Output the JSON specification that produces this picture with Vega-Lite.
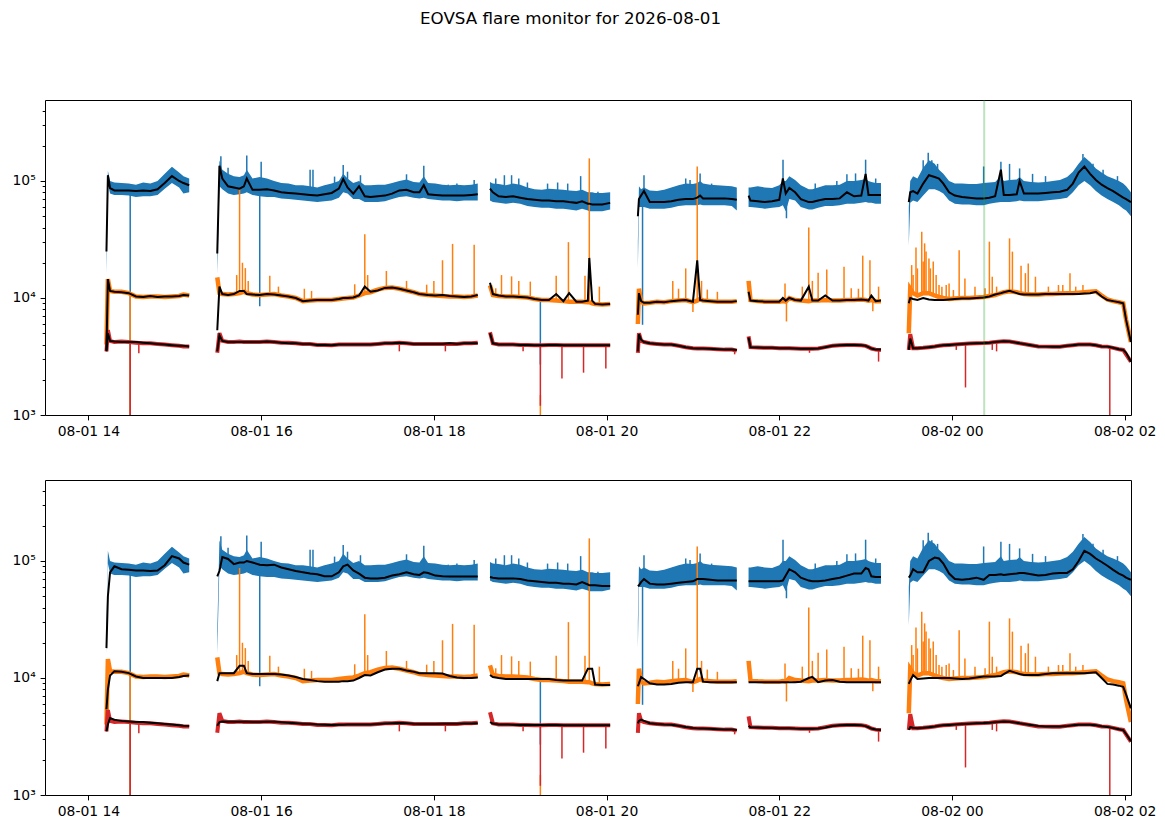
{
  "$schema": "https://vega.github.io/schema/vega-lite/v6.json",
  "autosize": {"type": "none"},
  "padding": {"left": 45, "top": 100, "right": 1120, "bottom": 726},
  "background": "white",
  "title": {"text": "EOVSA flare monitor for 2026-08-01", "anchor": "start", "frame": "group", "dx": 375, "baseline": "bottom", "offset": 54, "font": "DejaVu Sans", "fontSize": 16.7, "fontWeight": "normal", "color": "black"},
  "datasets": {
    "d": [
      {"t":"2026-08-01T14:12:30Z","g":1,"bl":16000,"bh":24000,"o":4000,"r":3500,"kb":25000,"ko":3600,"kr":3500,"mb":18000,"mo":5400,"mr":3500},
      {"t":"2026-08-01T14:13:30Z","g":1,"bl":95000,"bh":122000,"o":14500,"r":5300,"kb":112000,"ko":14500,"kr":5000,"mb":50000,"mo":8000,"mr":4000},
      {"t":"2026-08-01T14:15Z","g":1,"bl":78000,"bh":100000,"o":11500,"r":4300,"kb":87000,"ko":11500,"kr":4300,"mb":80000,"mo":10500,"mr":4550},
      {"t":"2026-08-01T14:18Z","g":1,"bl":76000,"bh":97000,"o":11300,"r":4200,"kb":83000,"ko":11300,"kr":4250,"mb":90000,"mo":11400,"mr":4400},
      {"t":"2026-08-01T14:23Z","g":1,"bl":76000,"bh":96000,"o":11300,"r":4250,"kb":83000,"ko":11200,"kr":4200,"mb":85000,"mo":11300,"mr":4300},
      {"t":"2026-08-01T14:28Z","g":1,"bl":75000,"bh":95000,"o":11000,"r":4200,"kb":83000,"ko":11000,"kr":4200,"mb":84000,"mo":11000,"mr":4250},
      {"t":"2026-08-01T14:33Z","g":1,"bl":73000,"bh":93000,"o":10300,"r":4150,"kb":82000,"ko":10300,"kr":4200,"mb":83000,"mo":10300,"mr":4200},
      {"t":"2026-08-01T14:38Z","g":1,"bl":74000,"bh":97000,"o":10200,"r":4100,"kb":83000,"ko":10200,"kr":4150,"mb":83000,"mo":10000,"mr":4200},
      {"t":"2026-08-01T14:43Z","g":1,"bl":74000,"bh":95000,"o":10300,"r":4100,"kb":82000,"ko":10400,"kr":4100,"mb":82000,"mo":10000,"mr":4150},
      {"t":"2026-08-01T14:48Z","g":1,"bl":76000,"bh":100000,"o":10300,"r":4050,"kb":85000,"ko":10200,"kr":4050,"mb":83000,"mo":10000,"mr":4100},
      {"t":"2026-08-01T14:53Z","g":1,"bl":86000,"bh":115000,"o":10200,"r":4000,"kb":96000,"ko":10300,"kr":4000,"mb":92000,"mo":10000,"mr":4050},
      {"t":"2026-08-01T14:58Z","g":1,"bl":96000,"bh":132000,"o":10300,"r":3950,"kb":110000,"ko":10300,"kr":3950,"mb":110000,"mo":10000,"mr":4000},
      {"t":"2026-08-01T15:03Z","g":1,"bl":88000,"bh":118000,"o":10400,"r":3900,"kb":100000,"ko":10400,"kr":3900,"mb":105000,"mo":10200,"mr":3950},
      {"t":"2026-08-01T15:06Z","g":1,"bl":78000,"bh":110000,"o":10700,"r":3850,"kb":96000,"ko":10600,"kr":3900,"mb":97000,"mo":10400,"mr":3900},
      {"t":"2026-08-01T15:10Z","g":1,"bl":80000,"bh":105000,"o":10500,"r":3850,"kb":92000,"ko":10500,"kr":3850,"mb":93000,"mo":10500,"mr":3880},
      {"t":"2026-08-01T15:29:30Z","g":2,"bl":16000,"bh":25000,"o":15000,"r":3400,"kb":24000,"ko":5300,"kr":3500,"mb":74000,"mo":9400,"mr":3900},
      {"t":"2026-08-01T15:31Z","g":2,"bl":90000,"bh":150000,"o":11000,"r":5000,"kb":135000,"ko":12500,"kr":4800,"mb":82000,"mo":11000,"mr":4200},
      {"t":"2026-08-01T15:33Z","g":2,"bl":85000,"bh":125000,"o":10800,"r":4300,"kb":105000,"ko":10800,"kr":4300,"mb":108000,"mo":11000,"mr":4250},
      {"t":"2026-08-01T15:37Z","g":2,"bl":78000,"bh":115000,"o":10700,"r":4200,"kb":90000,"ko":10600,"kr":4200,"mb":104000,"mo":11000,"mr":4230},
      {"t":"2026-08-01T15:41Z","g":2,"bl":76000,"bh":110000,"o":10800,"r":4200,"kb":88000,"ko":10800,"kr":4200,"mb":94000,"mo":11000,"mr":4220},
      {"t":"2026-08-01T15:45Z","g":2,"bl":77000,"bh":108000,"o":11000,"r":4250,"kb":86000,"ko":11500,"kr":4200,"mb":97000,"mo":12700,"mr":4220},
      {"t":"2026-08-01T15:48Z","g":2,"bl":78000,"bh":112000,"o":11300,"r":4200,"kb":90000,"ko":11500,"kr":4200,"mb":97000,"mo":12700,"mr":4220},
      {"t":"2026-08-01T15:50Z","g":2,"bl":80000,"bh":125000,"o":11000,"r":4200,"kb":105000,"ko":10800,"kr":4200,"mb":100000,"mo":11000,"mr":4220},
      {"t":"2026-08-01T15:54Z","g":2,"bl":76000,"bh":105000,"o":10700,"r":4200,"kb":84000,"ko":10700,"kr":4200,"mb":97000,"mo":10800,"mr":4210},
      {"t":"2026-08-01T15:59Z","g":2,"bl":74000,"bh":108000,"o":10600,"r":4200,"kb":84000,"ko":10600,"kr":4200,"mb":93000,"mo":10800,"mr":4210},
      {"t":"2026-08-01T16:04Z","g":2,"bl":73000,"bh":105000,"o":10700,"r":4250,"kb":85000,"ko":10800,"kr":4250,"mb":92000,"mo":10800,"mr":4230},
      {"t":"2026-08-01T16:09Z","g":2,"bl":73000,"bh":100000,"o":10800,"r":4200,"kb":83000,"ko":10700,"kr":4200,"mb":93000,"mo":10800,"mr":4220},
      {"t":"2026-08-01T16:14Z","g":2,"bl":71000,"bh":96000,"o":10500,"r":4150,"kb":80000,"ko":10500,"kr":4150,"mb":88000,"mo":10700,"mr":4180},
      {"t":"2026-08-01T16:19Z","g":2,"bl":70000,"bh":95000,"o":10300,"r":4150,"kb":79000,"ko":10300,"kr":4100,"mb":85000,"mo":10500,"mr":4150},
      {"t":"2026-08-01T16:24Z","g":2,"bl":69000,"bh":92000,"o":10000,"r":4100,"kb":78000,"ko":10000,"kr":4100,"mb":82000,"mo":10200,"mr":4110},
      {"t":"2026-08-01T16:29Z","g":2,"bl":68000,"bh":92000,"o":9400,"r":4050,"kb":77000,"ko":9400,"kr":4050,"mb":80000,"mo":9800,"mr":4070},
      {"t":"2026-08-01T16:34Z","g":2,"bl":67000,"bh":90000,"o":9500,"r":4050,"kb":76000,"ko":9500,"kr":4050,"mb":78000,"mo":9600,"mr":4040},
      {"t":"2026-08-01T16:39Z","g":2,"bl":66000,"bh":88000,"o":9600,"r":3970,"kb":75000,"ko":9600,"kr":3970,"mb":77000,"mo":9400,"mr":4000},
      {"t":"2026-08-01T16:44Z","g":2,"bl":67000,"bh":92000,"o":9600,"r":3970,"kb":77000,"ko":9600,"kr":3970,"mb":74000,"mo":9300,"mr":3980},
      {"t":"2026-08-01T16:49Z","g":2,"bl":68000,"bh":95000,"o":9600,"r":3950,"kb":79000,"ko":9600,"kr":3950,"mb":74000,"mo":9300,"mr":3970},
      {"t":"2026-08-01T16:54Z","g":2,"bl":72000,"bh":100000,"o":9800,"r":4000,"kb":86000,"ko":9800,"kr":4000,"mb":80000,"mo":9300,"mr":3980},
      {"t":"2026-08-01T16:57Z","g":2,"bl":80000,"bh":115000,"o":9900,"r":4000,"kb":104000,"ko":10000,"kr":4000,"mb":90000,"mo":9400,"mr":3990},
      {"t":"2026-08-01T17:00Z","g":2,"bl":78000,"bh":105000,"o":10000,"r":4000,"kb":88000,"ko":10000,"kr":4000,"mb":93000,"mo":9400,"mr":4000},
      {"t":"2026-08-01T17:04Z","g":2,"bl":70000,"bh":96000,"o":10100,"r":4000,"kb":78000,"ko":10100,"kr":4000,"mb":83000,"mo":9500,"mr":4000},
      {"t":"2026-08-01T17:08Z","g":2,"bl":70000,"bh":100000,"o":10500,"r":4000,"kb":90000,"ko":10500,"kr":4000,"mb":78000,"mo":10000,"mr":4000},
      {"t":"2026-08-01T17:12Z","g":2,"bl":66000,"bh":92000,"o":11000,"r":4000,"kb":74000,"ko":12500,"kr":4000,"mb":72000,"mo":10600,"mr":4000},
      {"t":"2026-08-01T17:16Z","g":2,"bl":66000,"bh":92000,"o":11200,"r":4000,"kb":73000,"ko":11300,"kr":4000,"mb":71000,"mo":10500,"mr":4010},
      {"t":"2026-08-01T17:21Z","g":2,"bl":66000,"bh":93000,"o":11800,"r":4050,"kb":74000,"ko":11600,"kr":4050,"mb":71000,"mo":11200,"mr":4040},
      {"t":"2026-08-01T17:26Z","g":2,"bl":67000,"bh":93000,"o":12200,"r":4100,"kb":75000,"ko":12200,"kr":4100,"mb":72000,"mo":11800,"mr":4080},
      {"t":"2026-08-01T17:31Z","g":2,"bl":70000,"bh":96000,"o":12300,"r":4100,"kb":78000,"ko":12300,"kr":4100,"mb":75000,"mo":12000,"mr":4100},
      {"t":"2026-08-01T17:36Z","g":2,"bl":73000,"bh":100000,"o":12000,"r":4150,"kb":83000,"ko":12000,"kr":4150,"mb":77000,"mo":12000,"mr":4120},
      {"t":"2026-08-01T17:41Z","g":2,"bl":74000,"bh":103000,"o":11600,"r":4100,"kb":84000,"ko":11600,"kr":4100,"mb":80000,"mo":11600,"mr":4100},
      {"t":"2026-08-01T17:46Z","g":2,"bl":72000,"bh":98000,"o":11200,"r":4050,"kb":80000,"ko":11200,"kr":4050,"mb":77000,"mo":11300,"mr":4060},
      {"t":"2026-08-01T17:50Z","g":2,"bl":71000,"bh":97000,"o":10800,"r":4050,"kb":80000,"ko":10800,"kr":4050,"mb":76000,"mo":11000,"mr":4050},
      {"t":"2026-08-01T17:53Z","g":2,"bl":72000,"bh":110000,"o":10700,"r":4050,"kb":92000,"ko":10700,"kr":4050,"mb":80000,"mo":11000,"mr":4050},
      {"t":"2026-08-01T17:56Z","g":2,"bl":70000,"bh":96000,"o":10600,"r":4050,"kb":77000,"ko":10600,"kr":4050,"mb":79000,"mo":11000,"mr":4050},
      {"t":"2026-08-01T18:01Z","g":2,"bl":69000,"bh":95000,"o":10500,"r":4050,"kb":76000,"ko":10500,"kr":4050,"mb":75000,"mo":11000,"mr":4050},
      {"t":"2026-08-01T18:06Z","g":2,"bl":68000,"bh":93000,"o":10400,"r":4050,"kb":75000,"ko":10600,"kr":4050,"mb":74000,"mo":10900,"mr":4060},
      {"t":"2026-08-01T18:11Z","g":2,"bl":68000,"bh":92000,"o":10300,"r":4050,"kb":75000,"ko":10400,"kr":4100,"mb":73500,"mo":10400,"mr":4070},
      {"t":"2026-08-01T18:16Z","g":2,"bl":67000,"bh":93000,"o":10300,"r":4050,"kb":75000,"ko":10300,"kr":4050,"mb":73500,"mo":10100,"mr":4070},
      {"t":"2026-08-01T18:21Z","g":2,"bl":68000,"bh":92000,"o":10200,"r":4100,"kb":75000,"ko":10200,"kr":4100,"mb":73500,"mo":10000,"mr":4080},
      {"t":"2026-08-01T18:26Z","g":2,"bl":68000,"bh":93000,"o":10300,"r":4100,"kb":76000,"ko":10300,"kr":4100,"mb":73500,"mo":10000,"mr":4090},
      {"t":"2026-08-01T18:30:30Z","g":2,"bl":68000,"bh":95000,"o":10500,"r":4150,"kb":77000,"ko":10600,"kr":4100,"mb":73500,"mo":10100,"mr":4100},
      {"t":"2026-08-01T18:39Z","g":3,"bl":68000,"bh":98000,"o":12800,"r":5100,"kb":86000,"ko":13500,"kr":5000,"mb":73000,"mo":10600,"mr":4200},
      {"t":"2026-08-01T18:41Z","g":3,"bl":66000,"bh":95000,"o":10600,"r":4100,"kb":80000,"ko":10800,"kr":4100,"mb":72000,"mo":10200,"mr":4080},
      {"t":"2026-08-01T18:45Z","g":3,"bl":65000,"bh":94000,"o":10400,"r":4000,"kb":74000,"ko":10500,"kr":4000,"mb":71000,"mo":10000,"mr":4000},
      {"t":"2026-08-01T18:50Z","g":3,"bl":64000,"bh":92000,"o":10300,"r":4000,"kb":73000,"ko":10300,"kr":4000,"mb":71000,"mo":9800,"mr":4000},
      {"t":"2026-08-01T18:55Z","g":3,"bl":65000,"bh":95000,"o":10300,"r":4000,"kb":74000,"ko":10300,"kr":4000,"mb":71000,"mo":9800,"mr":3990},
      {"t":"2026-08-01T19:00Z","g":3,"bl":64000,"bh":93000,"o":10200,"r":3970,"kb":72000,"ko":10200,"kr":3970,"mb":70000,"mo":9800,"mr":3970},
      {"t":"2026-08-01T19:05Z","g":3,"bl":61000,"bh":88000,"o":10100,"r":3970,"kb":70000,"ko":10100,"kr":3970,"mb":68000,"mo":9800,"mr":3970},
      {"t":"2026-08-01T19:10Z","g":3,"bl":60000,"bh":85000,"o":9800,"r":3950,"kb":69000,"ko":9800,"kr":3950,"mb":67000,"mo":9800,"mr":3960},
      {"t":"2026-08-01T19:15Z","g":3,"bl":59000,"bh":84000,"o":9600,"r":3950,"kb":68000,"ko":9600,"kr":3950,"mb":66000,"mo":9800,"mr":3960},
      {"t":"2026-08-01T19:20Z","g":3,"bl":59000,"bh":86000,"o":9600,"r":3970,"kb":68000,"ko":9600,"kr":3970,"mb":65000,"mo":9800,"mr":3960},
      {"t":"2026-08-01T19:25Z","g":3,"bl":58000,"bh":85000,"o":9500,"r":3970,"kb":67000,"ko":10800,"kr":3970,"mb":65000,"mo":9600,"mr":3960},
      {"t":"2026-08-01T19:30Z","g":3,"bl":58000,"bh":84000,"o":9400,"r":3950,"kb":67000,"ko":9400,"kr":3950,"mb":64000,"mo":9500,"mr":3950},
      {"t":"2026-08-01T19:34Z","g":3,"bl":57000,"bh":83000,"o":9300,"r":3950,"kb":66000,"ko":11000,"kr":3950,"mb":64000,"mo":9500,"mr":3950},
      {"t":"2026-08-01T19:39Z","g":3,"bl":56000,"bh":82000,"o":9300,"r":3950,"kb":65000,"ko":9300,"kr":3950,"mb":63000,"mo":9500,"mr":3950},
      {"t":"2026-08-01T19:43Z","g":3,"bl":58000,"bh":84000,"o":9300,"r":3950,"kb":67000,"ko":9300,"kr":3950,"mb":66000,"mo":9500,"mr":3950},
      {"t":"2026-08-01T19:47Z","g":3,"bl":56000,"bh":80000,"o":9200,"r":3950,"kb":64000,"ko":9500,"kr":3950,"mb":63000,"mo":12000,"mr":3950},
      {"t":"2026-08-01T19:48Z","g":3,"bl":55000,"bh":80000,"o":9200,"r":3950,"kb":64000,"ko":22000,"kr":3950,"mb":62000,"mo":12000,"mr":3950},
      {"t":"2026-08-01T19:50Z","g":3,"bl":55000,"bh":80000,"o":9000,"r":3950,"kb":63000,"ko":9500,"kr":3950,"mb":62000,"mo":12000,"mr":3950},
      {"t":"2026-08-01T19:52Z","g":3,"bl":55000,"bh":79000,"o":8900,"r":3950,"kb":63000,"ko":8900,"kr":3950,"mb":62000,"mo":8800,"mr":3950},
      {"t":"2026-08-01T19:57Z","g":3,"bl":55000,"bh":79000,"o":8800,"r":3950,"kb":63000,"ko":8800,"kr":3950,"mb":61000,"mo":8700,"mr":3950},
      {"t":"2026-08-01T20:02:30Z","g":3,"bl":57000,"bh":80000,"o":8900,"r":3950,"kb":65000,"ko":8900,"kr":3950,"mb":61000,"mo":8700,"mr":3950},
      {"t":"2026-08-01T20:21:45Z","g":4,"bl":17900,"bh":30000,"o":6000,"r":3400,"kb":50000,"ko":7200,"kr":3500,"mb":61000,"mo":8500,"mr":4100},
      {"t":"2026-08-01T20:22:30Z","g":4,"bl":60000,"bh":90000,"o":12000,"r":5000,"kb":70000,"ko":11000,"kr":4900,"mb":62000,"mo":9000,"mr":4300},
      {"t":"2026-08-01T20:24Z","g":4,"bl":60000,"bh":85000,"o":9300,"r":4300,"kb":75000,"ko":9400,"kr":4400,"mb":66000,"mo":10200,"mr":4400},
      {"t":"2026-08-01T20:26Z","g":4,"bl":60000,"bh":88000,"o":9000,"r":4200,"kb":82000,"ko":9100,"kr":4200,"mb":70000,"mo":9800,"mr":4300},
      {"t":"2026-08-01T20:30Z","g":4,"bl":58000,"bh":83000,"o":9100,"r":4100,"kb":66000,"ko":9100,"kr":4100,"mb":64000,"mo":9000,"mr":4100},
      {"t":"2026-08-01T20:35Z","g":4,"bl":58000,"bh":82000,"o":9300,"r":4050,"kb":66000,"ko":9300,"kr":4050,"mb":63000,"mo":8800,"mr":4040},
      {"t":"2026-08-01T20:40Z","g":4,"bl":58000,"bh":84000,"o":9200,"r":4000,"kb":66000,"ko":9200,"kr":4000,"mb":63000,"mo":8800,"mr":4000},
      {"t":"2026-08-01T20:45Z","g":4,"bl":59000,"bh":88000,"o":9400,"r":4000,"kb":67000,"ko":9400,"kr":4000,"mb":64000,"mo":8900,"mr":3980},
      {"t":"2026-08-01T20:50Z","g":4,"bl":61000,"bh":92000,"o":9500,"r":3900,"kb":69000,"ko":9500,"kr":3900,"mb":65000,"mo":9100,"mr":3900},
      {"t":"2026-08-01T20:55Z","g":4,"bl":62000,"bh":95000,"o":9600,"r":3800,"kb":70000,"ko":9600,"kr":3800,"mb":66000,"mo":9200,"mr":3810},
      {"t":"2026-08-01T21:00Z","g":4,"bl":62000,"bh":94000,"o":9200,"r":3720,"kb":70000,"ko":9300,"kr":3720,"mb":67000,"mo":9200,"mr":3740},
      {"t":"2026-08-01T21:03Z","g":4,"bl":62000,"bh":96000,"o":9500,"r":3700,"kb":72000,"ko":21000,"kr":3700,"mb":70000,"mo":12000,"mr":3710},
      {"t":"2026-08-01T21:05Z","g":4,"bl":63000,"bh":100000,"o":9800,"r":3700,"kb":75000,"ko":9600,"kr":3700,"mb":70000,"mo":12000,"mr":3700},
      {"t":"2026-08-01T21:07Z","g":4,"bl":62000,"bh":95000,"o":9500,"r":3700,"kb":71000,"ko":9500,"kr":3700,"mb":70000,"mo":9300,"mr":3700},
      {"t":"2026-08-01T21:12Z","g":4,"bl":62000,"bh":93000,"o":9400,"r":3680,"kb":71000,"ko":9400,"kr":3680,"mb":69000,"mo":9200,"mr":3680},
      {"t":"2026-08-01T21:17Z","g":4,"bl":62000,"bh":92000,"o":9300,"r":3650,"kb":71000,"ko":9300,"kr":3650,"mb":68000,"mo":9200,"mr":3650},
      {"t":"2026-08-01T21:22Z","g":4,"bl":62000,"bh":91000,"o":9300,"r":3620,"kb":71000,"ko":9300,"kr":3620,"mb":68000,"mo":9200,"mr":3630},
      {"t":"2026-08-01T21:27Z","g":4,"bl":61000,"bh":90000,"o":9300,"r":3620,"kb":70000,"ko":9300,"kr":3620,"mb":68000,"mo":9200,"mr":3620},
      {"t":"2026-08-01T21:30:30Z","g":4,"bl":56000,"bh":88000,"o":9400,"r":3550,"kb":69000,"ko":9400,"kr":3600,"mb":68000,"mo":9200,"mr":3600},
      {"t":"2026-08-01T21:38:40Z","g":5,"bl":60000,"bh":88000,"o":14000,"r":4700,"kb":75000,"ko":11300,"kr":4600,"mb":67000,"mo":9200,"mr":3900},
      {"t":"2026-08-01T21:40Z","g":5,"bl":60000,"bh":88000,"o":9600,"r":3800,"kb":68000,"ko":9500,"kr":3800,"mb":67000,"mo":9200,"mr":3790},
      {"t":"2026-08-01T21:45Z","g":5,"bl":59000,"bh":90000,"o":9400,"r":3780,"kb":67000,"ko":9400,"kr":3780,"mb":67000,"mo":9200,"mr":3770},
      {"t":"2026-08-01T21:50Z","g":5,"bl":58000,"bh":88000,"o":9300,"r":3750,"kb":66000,"ko":9300,"kr":3750,"mb":67000,"mo":9200,"mr":3750},
      {"t":"2026-08-01T21:55Z","g":5,"bl":59000,"bh":87000,"o":9300,"r":3750,"kb":67000,"ko":9300,"kr":3750,"mb":67000,"mo":9200,"mr":3740},
      {"t":"2026-08-01T22:00Z","g":5,"bl":60000,"bh":92000,"o":9300,"r":3720,"kb":69000,"ko":9300,"kr":3720,"mb":67000,"mo":9200,"mr":3720},
      {"t":"2026-08-01T22:02:30Z","g":5,"bl":62000,"bh":100000,"o":9400,"r":3720,"kb":105000,"ko":10000,"kr":3720,"mb":68000,"mo":9200,"mr":3720},
      {"t":"2026-08-01T22:04:30Z","g":5,"bl":55000,"bh":100000,"o":9300,"r":3720,"kb":78000,"ko":9500,"kr":3720,"mb":75000,"mo":9200,"mr":3720},
      {"t":"2026-08-01T22:07Z","g":5,"bl":70000,"bh":110000,"o":10000,"r":3720,"kb":87000,"ko":10000,"kr":3720,"mb":85000,"mo":9200,"mr":3720},
      {"t":"2026-08-01T22:11Z","g":5,"bl":68000,"bh":102000,"o":9600,"r":3700,"kb":80000,"ko":9600,"kr":3700,"mb":80000,"mo":9200,"mr":3700},
      {"t":"2026-08-01T22:15Z","g":5,"bl":60000,"bh":92000,"o":9500,"r":3680,"kb":70000,"ko":9500,"kr":3680,"mb":72000,"mo":9300,"mr":3690},
      {"t":"2026-08-01T22:20:30Z","g":5,"bl":57000,"bh":85000,"o":9400,"r":3680,"kb":66000,"ko":12500,"kr":3680,"mb":68000,"mo":10000,"mr":3680},
      {"t":"2026-08-01T22:23Z","g":5,"bl":57000,"bh":85000,"o":9500,"r":3680,"kb":66000,"ko":9500,"kr":3680,"mb":67000,"mo":10200,"mr":3680},
      {"t":"2026-08-01T22:27Z","g":5,"bl":59000,"bh":88000,"o":9500,"r":3700,"kb":68000,"ko":9500,"kr":3700,"mb":67000,"mo":9200,"mr":3700},
      {"t":"2026-08-01T22:32Z","g":5,"bl":61000,"bh":92000,"o":9600,"r":3800,"kb":70000,"ko":10500,"kr":3800,"mb":68000,"mo":9500,"mr":3780},
      {"t":"2026-08-01T22:37Z","g":5,"bl":61000,"bh":92000,"o":9500,"r":3900,"kb":70000,"ko":9500,"kr":3900,"mb":70000,"mo":9600,"mr":3880},
      {"t":"2026-08-01T22:42Z","g":5,"bl":62000,"bh":93000,"o":9500,"r":3950,"kb":71000,"ko":9500,"kr":3950,"mb":72000,"mo":9300,"mr":3940},
      {"t":"2026-08-01T22:47Z","g":5,"bl":64000,"bh":100000,"o":9600,"r":3970,"kb":80000,"ko":9600,"kr":3970,"mb":75000,"mo":9200,"mr":3960},
      {"t":"2026-08-01T22:52Z","g":5,"bl":64000,"bh":100000,"o":9600,"r":3970,"kb":74000,"ko":9600,"kr":3970,"mb":78000,"mo":9200,"mr":3960},
      {"t":"2026-08-01T22:57Z","g":5,"bl":65000,"bh":102000,"o":9700,"r":3950,"kb":75000,"ko":9700,"kr":3950,"mb":78000,"mo":9200,"mr":3940},
      {"t":"2026-08-01T23:00Z","g":5,"bl":66000,"bh":104000,"o":9600,"r":3900,"kb":115000,"ko":9600,"kr":3900,"mb":87000,"mo":9200,"mr":3880},
      {"t":"2026-08-01T23:02Z","g":5,"bl":65000,"bh":100000,"o":9500,"r":3800,"kb":76000,"ko":9500,"kr":3800,"mb":85000,"mo":9200,"mr":3790},
      {"t":"2026-08-01T23:04Z","g":5,"bl":65000,"bh":98000,"o":9600,"r":3700,"kb":76000,"ko":10500,"kr":3700,"mb":74000,"mo":9200,"mr":3700},
      {"t":"2026-08-01T23:07Z","g":5,"bl":64000,"bh":96000,"o":9400,"r":3620,"kb":76000,"ko":9400,"kr":3620,"mb":73000,"mo":9200,"mr":3630},
      {"t":"2026-08-01T23:10:40Z","g":5,"bl":64000,"bh":96000,"o":9400,"r":3600,"kb":76000,"ko":9500,"kr":3620,"mb":73000,"mo":9200,"mr":3600},
      {"t":"2026-08-01T23:30Z","g":6,"bl":28000,"bh":60000,"o":5000,"r":3600,"kb":66000,"ko":9000,"kr":3600,"mb":72000,"mo":8900,"mr":3600},
      {"t":"2026-08-01T23:31Z","g":6,"bl":65000,"bh":100000,"o":12000,"r":4900,"kb":80000,"ko":10000,"kr":4500,"mb":75000,"mo":9500,"mr":3800},
      {"t":"2026-08-01T23:33Z","g":6,"bl":68000,"bh":110000,"o":11000,"r":3720,"kb":82000,"ko":9800,"kr":3720,"mb":85000,"mo":10600,"mr":3750},
      {"t":"2026-08-01T23:36Z","g":6,"bl":66000,"bh":105000,"o":10500,"r":3720,"kb":78000,"ko":9600,"kr":3720,"mb":80000,"mo":9800,"mr":3720},
      {"t":"2026-08-01T23:40Z","g":6,"bl":75000,"bh":130000,"o":11000,"r":3750,"kb":95000,"ko":10000,"kr":3750,"mb":80000,"mo":9900,"mr":3750},
      {"t":"2026-08-01T23:44Z","g":6,"bl":85000,"bh":150000,"o":11000,"r":3800,"kb":112000,"ko":9700,"kr":3800,"mb":100000,"mo":10000,"mr":3800},
      {"t":"2026-08-01T23:48Z","g":6,"bl":85000,"bh":140000,"o":10500,"r":3850,"kb":108000,"ko":9600,"kr":3850,"mb":107000,"mo":10000,"mr":3850},
      {"t":"2026-08-01T23:51Z","g":6,"bl":82000,"bh":125000,"o":10200,"r":3900,"kb":105000,"ko":9600,"kr":3900,"mb":105000,"mo":10000,"mr":3900},
      {"t":"2026-08-01T23:54Z","g":6,"bl":78000,"bh":115000,"o":10000,"r":3950,"kb":95000,"ko":9600,"kr":3950,"mb":95000,"mo":10000,"mr":3950},
      {"t":"2026-08-01T23:58Z","g":6,"bl":68000,"bh":100000,"o":9800,"r":3970,"kb":80000,"ko":9700,"kr":3970,"mb":78000,"mo":10000,"mr":3970},
      {"t":"2026-08-02T00:02Z","g":6,"bl":64000,"bh":95000,"o":9900,"r":4000,"kb":75000,"ko":9800,"kr":4000,"mb":70000,"mo":9900,"mr":4000},
      {"t":"2026-08-02T00:07Z","g":6,"bl":63000,"bh":95000,"o":10000,"r":4050,"kb":73000,"ko":9900,"kr":4050,"mb":69000,"mo":9800,"mr":4040},
      {"t":"2026-08-02T00:12Z","g":6,"bl":63000,"bh":94000,"o":10000,"r":4080,"kb":72000,"ko":9900,"kr":4080,"mb":70000,"mo":9900,"mr":4070},
      {"t":"2026-08-02T00:17Z","g":6,"bl":62000,"bh":94000,"o":10100,"r":4100,"kb":71000,"ko":10000,"kr":4100,"mb":72000,"mo":10100,"mr":4100},
      {"t":"2026-08-02T00:22Z","g":6,"bl":62000,"bh":96000,"o":10200,"r":4120,"kb":71000,"ko":10100,"kr":4120,"mb":69000,"mo":10300,"mr":4120},
      {"t":"2026-08-02T00:26Z","g":6,"bl":64000,"bh":97000,"o":10400,"r":4150,"kb":72000,"ko":10300,"kr":4150,"mb":76000,"mo":10300,"mr":4150},
      {"t":"2026-08-02T00:30Z","g":6,"bl":65000,"bh":98000,"o":10600,"r":4200,"kb":74000,"ko":10700,"kr":4200,"mb":76000,"mo":10300,"mr":4190},
      {"t":"2026-08-02T00:34Z","g":6,"bl":66000,"bh":110000,"o":11000,"r":4250,"kb":125000,"ko":11000,"kr":4250,"mb":77000,"mo":10400,"mr":4230},
      {"t":"2026-08-02T00:36Z","g":6,"bl":66000,"bh":100000,"o":11200,"r":4270,"kb":76000,"ko":11200,"kr":4270,"mb":76000,"mo":10800,"mr":4250},
      {"t":"2026-08-02T00:40Z","g":6,"bl":66000,"bh":102000,"o":11400,"r":4250,"kb":76000,"ko":11500,"kr":4250,"mb":77000,"mo":11500,"mr":4230},
      {"t":"2026-08-02T00:45Z","g":6,"bl":67000,"bh":103000,"o":11200,"r":4150,"kb":77000,"ko":11000,"kr":4150,"mb":78000,"mo":11000,"mr":4150},
      {"t":"2026-08-02T00:47Z","g":6,"bl":68000,"bh":108000,"o":11000,"r":4100,"kb":100000,"ko":10800,"kr":4100,"mb":79000,"mo":10800,"mr":4100},
      {"t":"2026-08-02T00:50Z","g":6,"bl":67000,"bh":100000,"o":10800,"r":4050,"kb":78000,"ko":10700,"kr":4050,"mb":79000,"mo":10600,"mr":4050},
      {"t":"2026-08-02T00:55Z","g":6,"bl":67000,"bh":98000,"o":10700,"r":3950,"kb":78000,"ko":10700,"kr":3950,"mb":77000,"mo":10600,"mr":3960},
      {"t":"2026-08-02T01:00Z","g":6,"bl":67000,"bh":97000,"o":10700,"r":3850,"kb":78000,"ko":10700,"kr":3850,"mb":75000,"mo":10600,"mr":3880},
      {"t":"2026-08-02T01:05Z","g":6,"bl":68000,"bh":98000,"o":10800,"r":3840,"kb":79000,"ko":10800,"kr":3840,"mb":76000,"mo":10800,"mr":3850},
      {"t":"2026-08-02T01:10Z","g":6,"bl":69000,"bh":100000,"o":10800,"r":3840,"kb":80000,"ko":10800,"kr":3840,"mb":78000,"mo":11000,"mr":3850},
      {"t":"2026-08-02T01:15Z","g":6,"bl":70000,"bh":102000,"o":10900,"r":3840,"kb":81000,"ko":10800,"kr":3840,"mb":79000,"mo":11000,"mr":3850},
      {"t":"2026-08-02T01:20Z","g":6,"bl":72000,"bh":108000,"o":11000,"r":3900,"kb":84000,"ko":10800,"kr":3900,"mb":79000,"mo":11000,"mr":3890},
      {"t":"2026-08-02T01:24Z","g":6,"bl":80000,"bh":120000,"o":11000,"r":3950,"kb":95000,"ko":10800,"kr":3950,"mb":85000,"mo":11000,"mr":3940},
      {"t":"2026-08-02T01:28Z","g":6,"bl":92000,"bh":140000,"o":11100,"r":4000,"kb":118000,"ko":10800,"kr":4000,"mb":100000,"mo":11000,"mr":3980},
      {"t":"2026-08-02T01:32Z","g":6,"bl":100000,"bh":160000,"o":11200,"r":4000,"kb":133000,"ko":10900,"kr":4000,"mb":122000,"mo":11000,"mr":3990},
      {"t":"2026-08-02T01:36Z","g":6,"bl":92000,"bh":145000,"o":11300,"r":4000,"kb":115000,"ko":11000,"kr":4000,"mb":115000,"mo":11100,"mr":3990},
      {"t":"2026-08-02T01:40Z","g":6,"bl":82000,"bh":128000,"o":11400,"r":3950,"kb":102000,"ko":11300,"kr":3950,"mb":105000,"mo":11200,"mr":3950},
      {"t":"2026-08-02T01:44Z","g":6,"bl":75000,"bh":118000,"o":10500,"r":3850,"kb":93000,"ko":10300,"kr":3850,"mb":98000,"mo":10000,"mr":3870},
      {"t":"2026-08-02T01:48Z","g":6,"bl":70000,"bh":110000,"o":9700,"r":3840,"kb":87000,"ko":9600,"kr":3840,"mb":91000,"mo":8900,"mr":3820},
      {"t":"2026-08-02T01:52Z","g":6,"bl":66000,"bh":105000,"o":9400,"r":3750,"kb":82000,"ko":9400,"kr":3750,"mb":84000,"mo":8800,"mr":3740},
      {"t":"2026-08-02T01:56Z","g":6,"bl":62000,"bh":100000,"o":9200,"r":3650,"kb":76000,"ko":9200,"kr":3650,"mb":78000,"mo":8600,"mr":3650},
      {"t":"2026-08-02T01:59Z","g":6,"bl":58000,"bh":95000,"o":9000,"r":3600,"kb":72000,"ko":9000,"kr":3600,"mb":75000,"mo":8400,"mr":3580},
      {"t":"2026-08-02T02:01Z","g":6,"bl":56000,"bh":90000,"o":6500,"r":3300,"kb":70000,"ko":6500,"kr":3400,"mb":72000,"mo":7200,"mr":3320},
      {"t":"2026-08-02T02:04:20Z","g":6,"bl":50000,"bh":80000,"o":4200,"r":2850,"kb":66000,"ko":4200,"kr":2850,"mb":69000,"mo":5500,"mr":2880}
    ],
    "s": [
      {"c":"b","t":"2026-08-01T14:29Z","a":80000,"z":700},
      {"c":"b","t":"2026-08-01T15:32Z","a":100000,"z":163000},
      {"c":"b","t":"2026-08-01T15:37Z","a":90000,"z":130000},
      {"c":"b","t":"2026-08-01T15:50Z","a":95000,"z":165000},
      {"c":"b","t":"2026-08-01T15:59Z","a":80000,"z":8500},
      {"c":"b","t":"2026-08-01T16:00Z","a":90000,"z":146000},
      {"c":"b","t":"2026-08-01T16:34Z","a":80000,"z":125000},
      {"c":"b","t":"2026-08-01T16:36Z","a":80000,"z":125000},
      {"c":"b","t":"2026-08-01T16:51Z","a":80000,"z":109000},
      {"c":"b","t":"2026-08-01T16:57Z","a":90000,"z":137000},
      {"c":"b","t":"2026-08-01T17:00Z","a":85000,"z":120000},
      {"c":"b","t":"2026-08-01T17:09Z","a":80000,"z":112000},
      {"c":"b","t":"2026-08-01T17:41Z","a":85000,"z":114000},
      {"c":"b","t":"2026-08-01T17:53Z","a":85000,"z":135000},
      {"c":"b","t":"2026-08-01T18:10Z","a":78000,"z":93000},
      {"c":"b","t":"2026-08-01T18:16Z","a":78000,"z":95000},
      {"c":"b","t":"2026-08-01T18:28Z","a":78000,"z":102000},
      {"c":"b","t":"2026-08-01T18:43Z","a":80000,"z":105000},
      {"c":"b","t":"2026-08-01T18:49Z","a":80000,"z":112000},
      {"c":"b","t":"2026-08-01T18:54Z","a":78000,"z":112000},
      {"c":"b","t":"2026-08-01T18:59Z","a":75000,"z":105000},
      {"c":"b","t":"2026-08-01T19:05Z","a":72000,"z":97000},
      {"c":"b","t":"2026-08-01T19:14Z","a":9500,"z":2700},
      {"c":"b","t":"2026-08-01T19:19Z","a":70000,"z":95000},
      {"c":"b","t":"2026-08-01T19:26Z","a":70000,"z":97000},
      {"c":"b","t":"2026-08-01T19:33Z","a":68000,"z":95000},
      {"c":"b","t":"2026-08-01T19:42Z","a":67000,"z":110000},
      {"c":"b","t":"2026-08-01T19:54Z","a":65000,"z":81000},
      {"c":"b","t":"2026-08-01T20:25Z","a":65000,"z":5900},
      {"c":"b","t":"2026-08-01T20:26Z","a":75000,"z":112000},
      {"c":"b","t":"2026-08-01T20:55Z","a":72000,"z":105000},
      {"c":"b","t":"2026-08-01T20:58Z","a":72000,"z":102000},
      {"c":"b","t":"2026-08-01T21:05Z","a":75000,"z":116000},
      {"c":"b","t":"2026-08-01T21:13Z","a":72000,"z":95000},
      {"c":"b","t":"2026-08-01T21:25Z","a":70000,"z":88000},
      {"c":"b","t":"2026-08-01T22:02:36Z","a":80000,"z":152000},
      {"c":"b","t":"2026-08-01T22:05Z","a":70000,"z":48000},
      {"c":"b","t":"2026-08-01T22:25Z","a":70000,"z":95000},
      {"c":"b","t":"2026-08-01T22:40Z","a":72000,"z":100000},
      {"c":"b","t":"2026-08-01T22:47Z","a":75000,"z":114000},
      {"c":"b","t":"2026-08-01T22:53Z","a":75000,"z":116000},
      {"c":"b","t":"2026-08-01T23:00Z","a":80000,"z":152000},
      {"c":"b","t":"2026-08-01T23:07Z","a":75000,"z":105000},
      {"c":"b","t":"2026-08-01T23:40Z","a":100000,"z":150000},
      {"c":"b","t":"2026-08-01T23:43:30Z","a":110000,"z":174000},
      {"c":"b","t":"2026-08-01T23:46Z","a":100000,"z":150000},
      {"c":"b","t":"2026-08-01T23:50Z","a":100000,"z":140000},
      {"c":"b","t":"2026-08-02T00:22Z","a":75000,"z":133000},
      {"c":"b","t":"2026-08-02T00:34Z","a":90000,"z":146000},
      {"c":"b","t":"2026-08-02T00:40Z","a":80000,"z":140000},
      {"c":"b","t":"2026-08-02T00:47Z","a":80000,"z":128000},
      {"c":"b","t":"2026-08-02T00:56Z","a":80000,"z":115000},
      {"c":"b","t":"2026-08-02T01:05Z","a":80000,"z":110000},
      {"c":"b","t":"2026-08-02T01:31Z","a":120000,"z":170000},
      {"c":"b","t":"2026-08-02T01:38Z","a":110000,"z":140000},
      {"c":"b","t":"2026-08-02T01:45Z","a":90000,"z":125000},
      {"c":"b","t":"2026-08-02T01:55Z","a":80000,"z":110000},
      {"c":"o","t":"2026-08-01T14:29Z","a":11000,"z":700},
      {"c":"o","t":"2026-08-01T15:43Z","a":11000,"z":15700},
      {"c":"o","t":"2026-08-01T15:45Z","a":11000,"z":87000},
      {"c":"o","t":"2026-08-01T15:47Z","a":11000,"z":20000},
      {"c":"o","t":"2026-08-01T15:49Z","a":11000,"z":18000},
      {"c":"o","t":"2026-08-01T15:51Z","a":11000,"z":14000},
      {"c":"o","t":"2026-08-01T16:06Z","a":10700,"z":15500},
      {"c":"o","t":"2026-08-01T16:12Z","a":10500,"z":12500},
      {"c":"o","t":"2026-08-01T16:30Z","a":9500,"z":12000},
      {"c":"o","t":"2026-08-01T16:35Z","a":9500,"z":11500},
      {"c":"o","t":"2026-08-01T17:05Z","a":10100,"z":13100},
      {"c":"o","t":"2026-08-01T17:12Z","a":11000,"z":35000},
      {"c":"o","t":"2026-08-01T17:14Z","a":11000,"z":15700},
      {"c":"o","t":"2026-08-01T17:27Z","a":12000,"z":17000},
      {"c":"o","t":"2026-08-01T17:41Z","a":11600,"z":14000},
      {"c":"o","t":"2026-08-01T17:55Z","a":10600,"z":13000},
      {"c":"o","t":"2026-08-01T18:00Z","a":10500,"z":14000},
      {"c":"o","t":"2026-08-01T18:06Z","a":10400,"z":21000},
      {"c":"o","t":"2026-08-01T18:13Z","a":10300,"z":29000},
      {"c":"o","t":"2026-08-01T18:28Z","a":10300,"z":28500},
      {"c":"o","t":"2026-08-01T18:43Z","a":10500,"z":12100},
      {"c":"o","t":"2026-08-01T18:47Z","a":10400,"z":15700},
      {"c":"o","t":"2026-08-01T18:54Z","a":10300,"z":15300},
      {"c":"o","t":"2026-08-01T18:59Z","a":10200,"z":14000},
      {"c":"o","t":"2026-08-01T19:07Z","a":10000,"z":13800},
      {"c":"o","t":"2026-08-01T19:14Z","a":1480,"z":700},
      {"c":"o","t":"2026-08-01T19:25Z","a":9500,"z":15500},
      {"c":"o","t":"2026-08-01T19:33:30Z","a":9300,"z":30000},
      {"c":"o","t":"2026-08-01T19:45Z","a":9200,"z":15500},
      {"c":"o","t":"2026-08-01T19:48Z","a":9200,"z":156000},
      {"c":"o","t":"2026-08-01T19:55Z","a":8800,"z":12500},
      {"c":"o","t":"2026-08-01T20:46Z","a":9400,"z":14000},
      {"c":"o","t":"2026-08-01T20:50Z","a":9500,"z":12000},
      {"c":"o","t":"2026-08-01T20:55Z","a":9600,"z":17900},
      {"c":"o","t":"2026-08-01T21:00Z","a":9300,"z":7600},
      {"c":"o","t":"2026-08-01T21:03Z","a":9500,"z":133000},
      {"c":"o","t":"2026-08-01T21:06Z","a":9600,"z":14000},
      {"c":"o","t":"2026-08-01T21:10Z","a":9400,"z":11800},
      {"c":"o","t":"2026-08-01T21:17Z","a":9300,"z":11300},
      {"c":"o","t":"2026-08-01T22:04Z","a":9300,"z":13300},
      {"c":"o","t":"2026-08-01T22:05Z","a":9300,"z":6300},
      {"c":"o","t":"2026-08-01T22:16Z","a":9500,"z":12500},
      {"c":"o","t":"2026-08-01T22:20:30Z","a":9400,"z":40000},
      {"c":"o","t":"2026-08-01T22:23Z","a":9500,"z":14000},
      {"c":"o","t":"2026-08-01T22:27Z","a":9500,"z":16400},
      {"c":"o","t":"2026-08-01T22:33Z","a":9600,"z":17500},
      {"c":"o","t":"2026-08-01T22:45Z","a":9500,"z":18500},
      {"c":"o","t":"2026-08-01T22:50Z","a":9600,"z":12100},
      {"c":"o","t":"2026-08-01T22:55Z","a":9600,"z":12000},
      {"c":"o","t":"2026-08-01T22:58Z","a":9700,"z":23000},
      {"c":"o","t":"2026-08-01T23:03Z","a":9500,"z":21000},
      {"c":"o","t":"2026-08-01T23:05Z","a":9600,"z":7700},
      {"c":"o","t":"2026-08-01T23:09Z","a":9400,"z":12500},
      {"c":"o","t":"2026-08-01T23:32Z","a":11000,"z":19100},
      {"c":"o","t":"2026-08-01T23:33Z","a":11000,"z":15700},
      {"c":"o","t":"2026-08-01T23:35Z","a":10500,"z":27000},
      {"c":"o","t":"2026-08-01T23:36Z","a":10500,"z":17900},
      {"c":"o","t":"2026-08-01T23:39Z","a":11000,"z":36800},
      {"c":"o","t":"2026-08-01T23:40Z","a":11000,"z":20500},
      {"c":"o","t":"2026-08-01T23:41Z","a":11000,"z":29300},
      {"c":"o","t":"2026-08-01T23:42Z","a":11000,"z":24900},
      {"c":"o","t":"2026-08-01T23:44Z","a":11000,"z":21800},
      {"c":"o","t":"2026-08-01T23:45Z","a":10500,"z":17900},
      {"c":"o","t":"2026-08-01T23:47Z","a":10500,"z":20500},
      {"c":"o","t":"2026-08-01T23:49Z","a":10300,"z":15700},
      {"c":"o","t":"2026-08-01T23:51Z","a":10200,"z":12900},
      {"c":"o","t":"2026-08-01T23:53Z","a":10000,"z":12500},
      {"c":"o","t":"2026-08-01T23:56Z","a":9900,"z":12900},
      {"c":"o","t":"2026-08-01T23:58Z","a":9800,"z":13300},
      {"c":"o","t":"2026-08-02T00:01Z","a":9900,"z":11700},
      {"c":"o","t":"2026-08-02T00:05Z","a":10000,"z":25600},
      {"c":"o","t":"2026-08-02T00:09Z","a":10000,"z":14700},
      {"c":"o","t":"2026-08-02T00:16Z","a":10100,"z":12500},
      {"c":"o","t":"2026-08-02T00:23Z","a":10200,"z":12100},
      {"c":"o","t":"2026-08-02T00:26Z","a":10400,"z":30300},
      {"c":"o","t":"2026-08-02T00:28Z","a":10500,"z":15200},
      {"c":"o","t":"2026-08-02T00:31Z","a":10600,"z":12500},
      {"c":"o","t":"2026-08-02T00:40Z","a":11400,"z":32300},
      {"c":"o","t":"2026-08-02T00:42Z","a":11300,"z":24900},
      {"c":"o","t":"2026-08-02T00:48Z","a":11000,"z":18900},
      {"c":"o","t":"2026-08-02T00:51Z","a":10800,"z":16300},
      {"c":"o","t":"2026-08-02T00:53Z","a":10800,"z":19700},
      {"c":"o","t":"2026-08-02T00:58Z","a":10700,"z":15200},
      {"c":"o","t":"2026-08-02T01:07Z","a":10800,"z":12500},
      {"c":"o","t":"2026-08-02T01:14Z","a":10900,"z":12900},
      {"c":"o","t":"2026-08-02T01:17Z","a":10900,"z":12900},
      {"c":"o","t":"2026-08-02T01:22Z","a":11000,"z":16300},
      {"c":"o","t":"2026-08-02T01:26Z","a":11000,"z":12500},
      {"c":"o","t":"2026-08-02T01:31Z","a":11200,"z":12900},
      {"c":"r","t":"2026-08-01T14:29Z","a":4200,"z":700},
      {"c":"r","t":"2026-08-01T14:35Z","a":4150,"z":3370},
      {"c":"r","t":"2026-08-01T17:36Z","a":4100,"z":3500},
      {"c":"r","t":"2026-08-01T18:08Z","a":4050,"z":3500},
      {"c":"r","t":"2026-08-01T19:02Z","a":3970,"z":3500},
      {"c":"r","t":"2026-08-01T19:14Z","a":3950,"z":1200},
      {"c":"r","t":"2026-08-01T19:29Z","a":3950,"z":2050},
      {"c":"r","t":"2026-08-01T19:44Z","a":3950,"z":2300},
      {"c":"r","t":"2026-08-01T19:59:30Z","a":3950,"z":2500},
      {"c":"r","t":"2026-08-01T21:29Z","a":3600,"z":3300},
      {"c":"r","t":"2026-08-01T22:21Z","a":3680,"z":3400},
      {"c":"r","t":"2026-08-01T23:09Z","a":3620,"z":2860},
      {"c":"r","t":"2026-08-02T00:03Z","a":3950,"z":3600},
      {"c":"r","t":"2026-08-02T00:09:24Z","a":4000,"z":1720},
      {"c":"r","t":"2026-08-02T00:28Z","a":4100,"z":3600},
      {"c":"r","t":"2026-08-02T00:31Z","a":4150,"z":3500},
      {"c":"r","t":"2026-08-02T01:49:40Z","a":3850,"z":700}
    ]
  },
  "vconcat": [
    {
      "width": 1086,
      "height": 315,
      "encoding": {
        "x": {"field": "t", "type": "temporal", "scale": {"type": "utc", "nice": false, "domain": [1785590988000, 1785636264000]}, "axis": {"title": null, "format": "%m-%d %H", "values": [1785592800000, 1785600000000, 1785607200000, 1785614400000, 1785621600000, 1785628800000, 1785636000000]}}
      },
      "layer": [
        {"data": {"name": "d"}, "mark": {"type": "area", "color": "#1f77b4", "clip": true},
         "encoding": {"y": {"field": "bl", "type": "quantitative", "scale": {"type": "log", "nice": false, "domain": [1000, 492000]}, "axis": {"title": null, "values": [1000, 2000, 3000, 4000, 5000, 6000, 7000, 8000, 9000, 10000, 20000, 30000, 40000, 50000, 60000, 70000, 80000, 90000, 100000, 200000, 300000, 400000], "tickSize": {"condition": {"test": "datum.value == 1000 || datum.value == 10000 || datum.value == 100000", "value": 4.9}, "value": 2.8}, "labelPadding": 4.9, "labelExpr": "datum.value == 1000 ? '10\u00b3' : datum.value == 10000 ? '10\u2074' : datum.value == 100000 ? '10\u2075' : ''"}}, "y2": {"field": "bh"}, "detail": {"field": "g"}}},
        {"data": {"name": "s"}, "transform": [{"filter": "datum.c == 'b'"}], "mark": {"type": "rule", "color": "#1f77b4", "strokeWidth": 1.5, "clip": true},
         "encoding": {"y": {"field": "a", "type": "quantitative", "scale": {"type": "log", "nice": false, "domain": [1000, 492000]}}, "y2": {"field": "z"}}},
        {"data": {"name": "d"}, "mark": {"type": "line", "color": "#ff7f0e", "strokeWidth": 4.5, "clip": true},
         "encoding": {"y": {"field": "o", "type": "quantitative", "scale": {"type": "log", "nice": false, "domain": [1000, 492000]}}, "detail": {"field": "g"}}},
        {"data": {"name": "s"}, "transform": [{"filter": "datum.c == 'o'"}], "mark": {"type": "rule", "color": "#ff7f0e", "strokeWidth": 1.5, "clip": true},
         "encoding": {"y": {"field": "a", "type": "quantitative", "scale": {"type": "log", "nice": false, "domain": [1000, 492000]}}, "y2": {"field": "z"}}},
        {"data": {"name": "d"}, "mark": {"type": "line", "color": "#d62728", "strokeWidth": 4, "clip": true},
         "encoding": {"y": {"field": "r", "type": "quantitative", "scale": {"type": "log", "nice": false, "domain": [1000, 492000]}}, "detail": {"field": "g"}}},
        {"data": {"name": "s"}, "transform": [{"filter": "datum.c == 'r'"}], "mark": {"type": "rule", "color": "#d62728", "strokeWidth": 1.5, "clip": true},
         "encoding": {"y": {"field": "a", "type": "quantitative", "scale": {"type": "log", "nice": false, "domain": [1000, 492000]}}, "y2": {"field": "z"}}},
        {"data": {"name": "d"}, "mark": {"type": "line", "color": "black", "strokeWidth": 2, "clip": true},
         "encoding": {"y": {"field": "kb", "type": "quantitative", "scale": {"type": "log", "nice": false, "domain": [1000, 492000]}}, "detail": {"field": "g"}}},
        {"data": {"name": "d"}, "mark": {"type": "line", "color": "black", "strokeWidth": 2, "clip": true},
         "encoding": {"y": {"field": "ko", "type": "quantitative", "scale": {"type": "log", "nice": false, "domain": [1000, 492000]}}, "detail": {"field": "g"}}},
        {"data": {"name": "d"}, "mark": {"type": "line", "color": "black", "strokeWidth": 2, "clip": true},
         "encoding": {"y": {"field": "kr", "type": "quantitative", "scale": {"type": "log", "nice": false, "domain": [1000, 492000]}}, "detail": {"field": "g"}}},
        {"data": {"values": [{"t": "2026-08-02T00:22:24Z"}]}, "mark": {"type": "rule", "color": "#2ca02c", "opacity": 0.3, "strokeWidth": 2}, "encoding": {}}
      ]
    },
    {
      "width": 1086,
      "height": 315,
      "encoding": {
        "x": {"field": "t", "type": "temporal", "scale": {"type": "utc", "nice": false, "domain": [1785590988000, 1785636264000]}, "axis": {"title": null, "format": "%m-%d %H", "values": [1785592800000, 1785600000000, 1785607200000, 1785614400000, 1785621600000, 1785628800000, 1785636000000]}}
      },
      "layer": [
        {"data": {"name": "d"}, "mark": {"type": "area", "color": "#1f77b4", "clip": true},
         "encoding": {"y": {"field": "bl", "type": "quantitative", "scale": {"type": "log", "nice": false, "domain": [1000, 492000]}, "axis": {"title": null, "values": [1000, 2000, 3000, 4000, 5000, 6000, 7000, 8000, 9000, 10000, 20000, 30000, 40000, 50000, 60000, 70000, 80000, 90000, 100000, 200000, 300000, 400000], "tickSize": {"condition": {"test": "datum.value == 1000 || datum.value == 10000 || datum.value == 100000", "value": 4.9}, "value": 2.8}, "labelPadding": 4.9, "labelExpr": "datum.value == 1000 ? '10\u00b3' : datum.value == 10000 ? '10\u2074' : datum.value == 100000 ? '10\u2075' : ''"}}, "y2": {"field": "bh"}, "detail": {"field": "g"}}},
        {"data": {"name": "s"}, "transform": [{"filter": "datum.c == 'b'"}], "mark": {"type": "rule", "color": "#1f77b4", "strokeWidth": 1.5, "clip": true},
         "encoding": {"y": {"field": "a", "type": "quantitative", "scale": {"type": "log", "nice": false, "domain": [1000, 492000]}}, "y2": {"field": "z"}}},
        {"data": {"name": "d"}, "mark": {"type": "line", "color": "#ff7f0e", "strokeWidth": 4.5, "clip": true},
         "encoding": {"y": {"field": "o", "type": "quantitative", "scale": {"type": "log", "nice": false, "domain": [1000, 492000]}}, "detail": {"field": "g"}}},
        {"data": {"name": "s"}, "transform": [{"filter": "datum.c == 'o'"}], "mark": {"type": "rule", "color": "#ff7f0e", "strokeWidth": 1.5, "clip": true},
         "encoding": {"y": {"field": "a", "type": "quantitative", "scale": {"type": "log", "nice": false, "domain": [1000, 492000]}}, "y2": {"field": "z"}}},
        {"data": {"name": "d"}, "mark": {"type": "line", "color": "#d62728", "strokeWidth": 4, "clip": true},
         "encoding": {"y": {"field": "r", "type": "quantitative", "scale": {"type": "log", "nice": false, "domain": [1000, 492000]}}, "detail": {"field": "g"}}},
        {"data": {"name": "s"}, "transform": [{"filter": "datum.c == 'r'"}], "mark": {"type": "rule", "color": "#d62728", "strokeWidth": 1.5, "clip": true},
         "encoding": {"y": {"field": "a", "type": "quantitative", "scale": {"type": "log", "nice": false, "domain": [1000, 492000]}}, "y2": {"field": "z"}}},
        {"data": {"name": "d"}, "mark": {"type": "line", "color": "black", "strokeWidth": 2, "clip": true},
         "encoding": {"y": {"field": "mb", "type": "quantitative", "scale": {"type": "log", "nice": false, "domain": [1000, 492000]}}, "detail": {"field": "g"}}},
        {"data": {"name": "d"}, "mark": {"type": "line", "color": "black", "strokeWidth": 2, "clip": true},
         "encoding": {"y": {"field": "mo", "type": "quantitative", "scale": {"type": "log", "nice": false, "domain": [1000, 492000]}}, "detail": {"field": "g"}}},
        {"data": {"name": "d"}, "mark": {"type": "line", "color": "black", "strokeWidth": 2, "clip": true},
         "encoding": {"y": {"field": "mr", "type": "quantitative", "scale": {"type": "log", "nice": false, "domain": [1000, 492000]}}, "detail": {"field": "g"}}}
      ]
    }
  ],
  "spacing": 39,
  "config": {
    "view": {"stroke": "black", "strokeWidth": 1},
    "axis": {"domain": false, "grid": false, "labelFont": "DejaVu Sans", "labelFontSize": 13.9, "labelColor": "black", "tickColor": "black", "tickWidth": 1, "tickSize": 4.9, "labelPadding": 4.9, "labelFlush": false, "labelOverlap": false}
  }
}
